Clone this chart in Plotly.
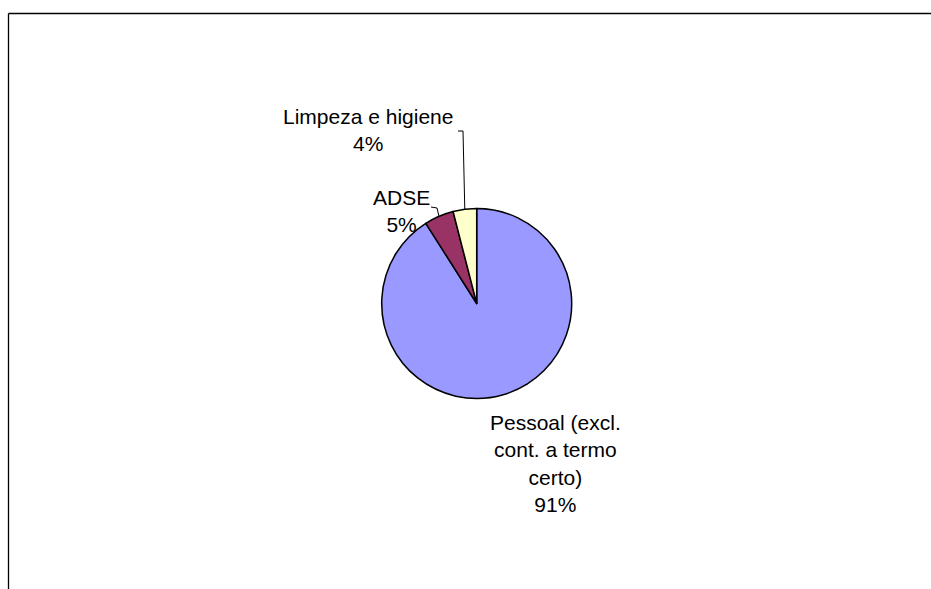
import math
import plotly.graph_objects as go

# Cost structure shares (%)
categories = ["Pessoal (excl.<br>cont. a termo<br>certo)", "ADSE", "Limpeza e higiene"]
values = [91, 5, 4]
colors = ["#9999FF", "#993366", "#FFFFCC"]

W, H = 931, 589
CX, CY, R = 476.7, 303.5, 95.0   # pie centre and radius in pixels


def px(x):
    return x / W


def py(y):
    return 1 - y / H


fig = go.Figure(
    go.Pie(
        labels=categories,
        values=values,
        sort=False,
        direction="clockwise",
        rotation=0,
        textinfo="none",
        hoverinfo="label+percent",
        marker=dict(colors=colors, line=dict(color="black", width=1.5)),
        domain=dict(x=[px(CX - R), px(CX + R)], y=[py(CY + R), py(CY - R)]),
        showlegend=False,
    )
)

# slice mid-angles (degrees clockwise from 12 o'clock), derived from the values
total = sum(values)
mids = []
acc = 0.0
for v in values:
    mids.append((acc + v / 2) / total * 360)
    acc += v


def edge(angle_deg):
    a = math.radians(angle_deg)
    return CX + R * math.sin(a), CY - R * math.cos(a)


pct = [f"{round(v / total * 100)}%" for v in values]
font = dict(family="Liberation Sans, Arial, sans-serif", size=21, color="black")

label_pos = [(555, 463), (401, 211), (368, 130)]
annotations = []
for name, p, (lx, ly) in zip(categories, pct, label_pos):
    annotations.append(
        dict(
            x=px(lx), y=py(ly), xref="paper", yref="paper",
            text=f"{name}<br>{p}", showarrow=False, font=font,
            xanchor="center", yanchor="middle", align="center",
        )
    )

shapes = []
# leader line for "Limpeza e higiene"
ex, ey = edge(mids[2])
shapes.append(dict(type="path", xref="paper", yref="paper",
                   path=f"M {px(458)},{py(131)} L {px(463)},{py(131)} L {px(ex)},{py(ey)}",
                   line=dict(color="black", width=1)))
# leader line for "ADSE"
ex, ey = edge(mids[1])
shapes.append(dict(type="path", xref="paper", yref="paper",
                   path=f"M {px(431)},{py(207)} L {px(437)},{py(208)} L {px(ex)},{py(ey)}",
                   line=dict(color="black", width=1)))
# chart area frame (top and left edges)
shapes.append(dict(type="line", xref="paper", yref="paper",
                   x0=px(8.5), y0=py(13.5), x1=1, y1=py(13.5),
                   line=dict(color="black", width=1.3)))
shapes.append(dict(type="line", xref="paper", yref="paper",
                   x0=px(8.5), y0=py(13.5), x1=px(8.5), y1=0,
                   line=dict(color="black", width=1.3)))

fig.update_layout(
    width=W, height=H,
    margin=dict(l=0, r=0, t=0, b=0),
    paper_bgcolor="white", plot_bgcolor="white",
    annotations=annotations, shapes=shapes,
)

fig.write_html("out.html")
